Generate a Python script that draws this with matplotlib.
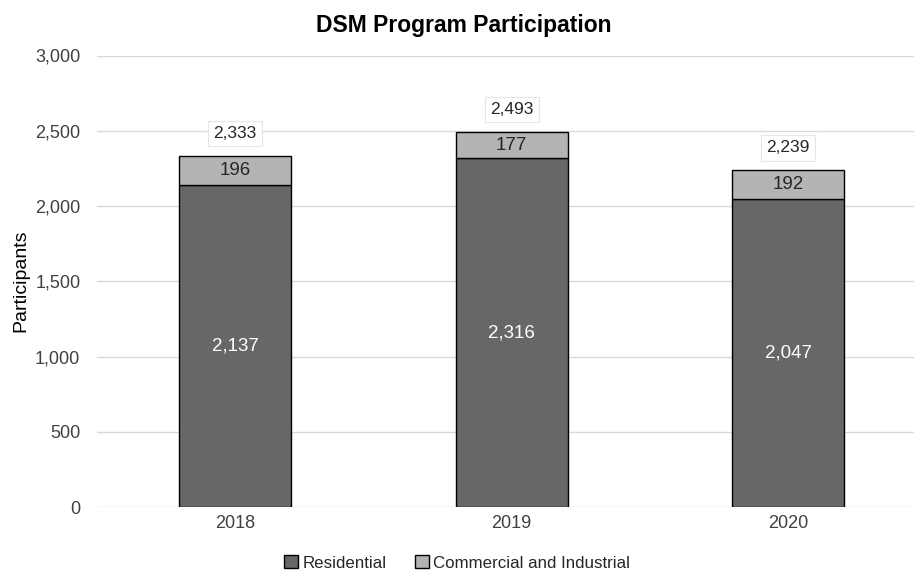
import matplotlib.pyplot as plt
from matplotlib.patches import Patch

plt.rcParams['font.family'] = ['Liberation Sans', 'DejaVu Sans']

# Participation data by year
years = ['2018', '2019', '2020']
residential = [2137, 2316, 2047]
commercial = [196, 177, 192]
totals = [2333, 2493, 2239]

col_res = '#676767'
col_com = '#b4b4b4'
txt = '#262626'

fig = plt.figure(figsize=(9.14, 5.74), dpi=100)
ax = fig.add_axes([97 / 914, 67 / 574, 817 / 914, 451.5 / 574])

x = range(len(years))
w = 0.405
ax.bar(x, residential, width=w, color=col_res, edgecolor='black', linewidth=1, zorder=3)
ax.bar(x, commercial, width=w, bottom=residential, color=col_com, edgecolor='black', linewidth=1, zorder=3)

# Segment labels and totals above each bar
for i in x:
    ax.text(i, residential[i] / 2, f'{residential[i]:,}', ha='center', va='center',
            color='white', fontsize=13.5, zorder=4)
    ax.text(i, residential[i] + commercial[i] / 2, f'{commercial[i]:,}', ha='center', va='center',
            color=txt, fontsize=13.5, zorder=4)
    ax.annotate(f'{totals[i]:,}', (i, totals[i]), xytext=(0, 16), textcoords='offset points',
                ha='center', va='center', color=txt, fontsize=12.5, zorder=4,
                bbox=dict(boxstyle='square,pad=0.3', fc='white', ec='#e6e6e6', lw=0.8))

ax.set_xlim(-0.5, 2.455)
ax.set_ylim(0, 3000)
ax.set_yticks(range(0, 3001, 500))
ax.set_yticklabels([f'{v:,}' for v in range(0, 3001, 500)])
ax.set_xticks(list(x))
ax.set_xticklabels(years)
ax.tick_params(axis='both', length=0, labelsize=13, colors='#404040')
ax.tick_params(axis='x', pad=6)
ax.tick_params(axis='y', pad=12)
ax.grid(axis='y', color='#d9d9d9', linewidth=1, zorder=0)
for s in ax.spines.values():
    s.set_visible(False)

ax.set_ylabel('Participants', fontsize=14, color='black', labelpad=4)
fig.text(464 / 914, 1 - 32 / 574, 'DSM Program Participation', ha='center', va='baseline',
         fontsize=16.5, fontweight='bold', color='black')

handles = [Patch(facecolor=col_res, edgecolor='black', lw=1, label='Residential'),
           Patch(facecolor=col_com, edgecolor='black', lw=1, label='Commercial and Industrial')]
fig.legend(handles=handles, loc='center', bbox_to_anchor=(457 / 914, 1 - 563 / 574), ncol=2,
           frameon=False, fontsize=12.2, handlelength=0.8, handleheight=0.8, handletextpad=0.25,
           columnspacing=1.7, labelcolor='#262626', borderpad=0)

fig.savefig('out.png', dpi=100)
